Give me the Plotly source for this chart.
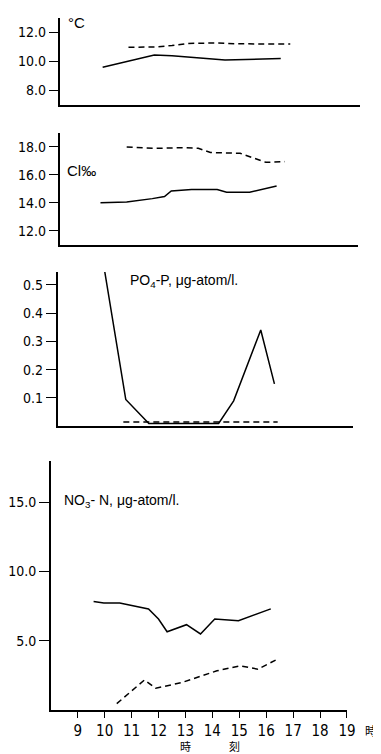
import plotly.graph_objects as go

# ---- data (hour of day, values) ----
temp_solid_hours = [9.55, 11.45, 12.1, 14.05, 16.1]
temp_solid = [9.6, 10.45, 10.4, 10.1, 10.2]
temp_dash_hours = [10.5, 11.5, 12.1, 12.7, 13.8, 14.5, 16.45]
temp_dash = [10.98, 11.0, 11.1, 11.25, 11.28, 11.22, 11.2]

cl_solid_hours = [9.48, 10.45, 11.4, 11.85, 12.1, 12.85, 13.8, 14.15, 15.0, 16.0]
cl_solid = [14.0, 14.05, 14.3, 14.45, 14.85, 14.95, 14.95, 14.75, 14.75, 15.2]
cl_dash_hours = [10.45, 11.5, 12.5, 13.1, 13.55, 14.65, 15.6, 16.3]
cl_dash = [18.0, 17.9, 17.95, 17.9, 17.6, 17.55, 16.9, 16.95]

po4_solid_hours = [9.6, 10.54, 11.4, 14.0, 14.56, 15.17, 15.57, 16.08]
po4_solid = [0.637, 0.095, 0.01, 0.01, 0.09, 0.24, 0.34, 0.15]
po4_dash_hours = [10.45, 11.5, 12.5, 13.5, 14.5, 15.5, 16.2]
po4_dash = [0.015, 0.015, 0.015, 0.015, 0.015, 0.015, 0.015]

no3_solid_hours = [9.59, 9.97, 10.56, 11.63, 12.0, 12.32, 13.04, 13.56, 14.09, 14.97, 16.17]
no3_solid = [7.83, 7.73, 7.73, 7.3, 6.57, 5.65, 6.16, 5.49, 6.57, 6.45, 7.3]
no3_dash_hours = [10.45, 11.48, 11.9, 12.86, 14.17, 15.03, 15.69, 16.35]
no3_dash = [0.46, 2.17, 1.57, 1.98, 2.83, 3.19, 2.95, 3.6]

hour_ticks = [9, 10, 11, 12, 13, 14, 15, 16, 17, 18, 19]
hour_labels = ["9", "10", "11", "12", "13", "14", "15", "16", "17", "18", "19"]

temp_ticks = [8.0, 10.0, 12.0]
temp_labels = ["8.0", "10.0", "12.0"]
cl_ticks = [12.0, 14.0, 16.0, 18.0]
cl_labels = ["12.0", "14.0", "16.0", "18.0"]
po4_ticks = [0.1, 0.2, 0.3, 0.4, 0.5]
po4_labels = ["0.1", "0.2", "0.3", "0.4", "0.5"]
no3_ticks = [5.0, 10.0, 15.0]
no3_labels = ["5.0", "10.0", "15.0"]

W, H = 381, 754
NARROW = "Liberation Sans Narrow, DejaVu Sans Condensed, Arial Narrow, sans-serif"
REG = "Liberation Sans, Arial, sans-serif"
CJK = "Noto Sans CJK JP"

def px_x(a, b):
    return [a / W, b / W]

def px_y(top, bottom):
    return [1 - bottom / H, 1 - top / H]

fig = go.Figure()

panels = [
    (temp_solid_hours, temp_solid, temp_dash_hours, temp_dash),
    (cl_solid_hours, cl_solid, cl_dash_hours, cl_dash),
    (po4_solid_hours, po4_solid, po4_dash_hours, po4_dash),
    (no3_solid_hours, no3_solid, no3_dash_hours, no3_dash),
]
for i, (sx, sy, dx, dy) in enumerate(panels, start=1):
    xa = "x" if i == 1 else f"x{i}"
    ya = "y" if i == 1 else f"y{i}"
    fig.add_trace(go.Scatter(x=sx, y=sy, mode="lines", xaxis=xa, yaxis=ya,
                             line=dict(color="black", width=1.5), showlegend=False))
    fig.add_trace(go.Scatter(x=dx, y=dy, mode="lines", xaxis=xa, yaxis=ya,
                             line=dict(color="black", width=1.5, dash="6px,4px"),
                             showlegend=False))

xcommon = dict(range=[8, 19], showgrid=False, zeroline=False, showline=True,
               linecolor="black", linewidth=1.5, fixedrange=True)
ycommon = dict(showgrid=False, zeroline=False, showline=True, linecolor="black",
               linewidth=1.5, ticks="outside", ticklen=10, tickwidth=1.2,
               tickcolor="black", tickfont=dict(family=NARROW, size=14, color="black"),
               ticklabelstandoff=0)

fig.update_layout(
    width=W, height=H, margin=dict(l=0, r=0, t=0, b=0),
    paper_bgcolor="white", plot_bgcolor="white",
    xaxis=dict(domain=px_x(52, 360), anchor="y", showticklabels=False, ticks="", **xcommon),
    yaxis=dict(domain=px_y(10, 97), anchor="x", range=[7.0, 13.0],
               tickvals=temp_ticks, ticktext=temp_labels, **ycommon),
    xaxis2=dict(domain=px_x(52, 358), anchor="y2", showticklabels=False, ticks="", **xcommon),
    yaxis2=dict(domain=px_y(125, 236.7), anchor="x2", range=[11.0, 19.0],
                tickvals=cl_ticks, ticktext=cl_labels, **ycommon),
    xaxis3=dict(domain=px_x(49, 353), anchor="y3", showticklabels=False, ticks="", **xcommon),
    yaxis3=dict(domain=px_y(264, 418.3), anchor="x3", range=[0, 0.545],
                tickvals=po4_ticks, ticktext=po4_labels, **ycommon),
    xaxis4=dict(domain=px_x(42, 347), anchor="y4", tickvals=hour_ticks, ticktext=hour_labels,
                ticks="outside", ticklen=6, tickwidth=1.2, tickcolor="black",
                tickfont=dict(family=NARROW, size=15, color="black"), **xcommon),
    yaxis4=dict(domain=px_y(452.7, 702), anchor="x4", range=[0, 18.0],
                tickvals=no3_ticks, ticktext=no3_labels, **ycommon),
)

ann = [
    dict(text="°C", x=58 / W, y=1 - 14 / H, xanchor="left", yanchor="middle",
         font=dict(family=REG, size=15)),
    dict(text="Cl‰", x=57 / W, y=1 - 162 / H, xanchor="left", yanchor="middle",
         font=dict(family=REG, size=15)),
    dict(text="PO<sub>4</sub>-P, μg-atom/l.", x=122 / W, y=1 - 273 / H, xanchor="left",
         yanchor="middle", font=dict(family=REG, size=14)),
    dict(text="NO<sub>3</sub>- N, μg-atom/l.", x=54 / W, y=1 - 493 / H, xanchor="left",
         yanchor="middle", font=dict(family=REG, size=14)),
    dict(text="時", x=372 / W, y=1 - 722 / H, xanchor="center", yanchor="middle",
         font=dict(family=CJK, size=12)),
    dict(text="時", x=181 / W, y=1 - 738 / H, xanchor="center", yanchor="middle",
         font=dict(family=CJK, size=11)),
    dict(text="刻", x=231 / W, y=1 - 738 / H, xanchor="center", yanchor="middle",
         font=dict(family=CJK, size=11)),
]
for a in ann:
    a.update(xref="paper", yref="paper", showarrow=False)
    a["font"]["color"] = "black"
fig.update_layout(annotations=ann)

fig.write_html("out.html")
